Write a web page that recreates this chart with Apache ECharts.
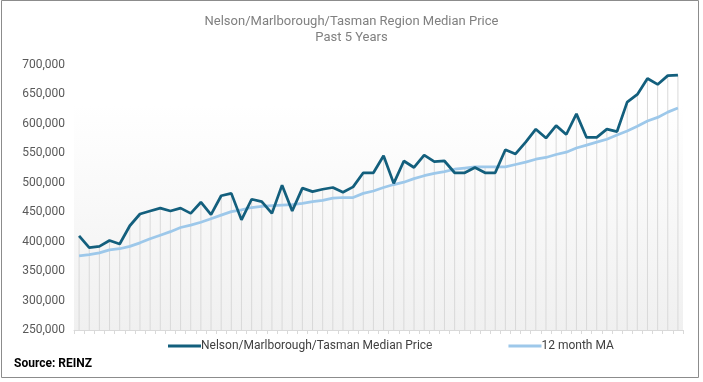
<!DOCTYPE html>
<html><head><meta charset="utf-8">
<script src="https://cdn.jsdelivr.net/npm/echarts@6/dist/echarts.min.js"></script>
<style>html,body{margin:0;padding:0;background:#fff}#c{width:703px;height:382px}</style>
</head><body><div id="c"></div>
<script>
const months = Array.from({length: 60}, (_, i) => 'M' + (i + 1));
const medianPrice = [410000,390000,392000,402000,396000,427000,447000,452000,457000,452000,
  457000,448000,467000,446000,478000,482000,437000,472000,468000,448000,
  496000,452000,491000,485000,489000,492000,484000,493000,517000,517000,
  546000,499000,537000,526000,547000,536000,537000,517000,517000,526000,
  517000,517000,556000,549000,569000,591000,576000,597000,582000,617000,
  577000,577000,591000,587000,637000,650000,677000,667000,682000,683000];
const movingAvg = [376000,378000,381000,386000,388000,392000,398000,405000,411000,417000,
  424000,428000,433000,439000,445000,451000,454000,458000,460000,461000,
  462000,463000,465000,468000,470000,474000,475000,475000,482000,486000,
  492000,497000,501000,507000,512000,516000,519000,523000,525000,527000,
  527000,527000,527000,531000,535000,540000,543000,548000,552000,559000,
  564000,569000,574000,581000,588000,596000,605000,611000,620000,627000];
const yTicks = [250000, 300000, 350000, 400000, 450000, 500000, 550000, 600000, 650000, 700000];
const titleLines = ['Nelson/Marlborough/Tasman Region Median Price', 'Past 5 Years'];
const seriesNames = ['Nelson/Marlborough/Tasman Median Price', '12 month MA'];
const sourceText = 'Source: REINZ';

const dropLines = medianPrice.map((v, i) => Math.max(v, movingAvg[i]));
const chart = echarts.init(document.getElementById('c'), null, {renderer: 'canvas'});
const font = 'Roboto, "Liberation Sans", sans-serif';
chart.setOption({
  animation: false,
  textStyle: {fontFamily: font},
  title: {
    text: titleLines.join('\n'), left: 'center', top: 9,
    textStyle: {fontSize: 13, fontWeight: 'normal', color: '#808080', lineHeight: 16, fontFamily: font}
  },
  legend: {
    bottom: 25, left: 163, itemGap: 76, itemWidth: 33, itemHeight: 3,
    icon: 'rect',
    data: seriesNames,
    textStyle: {fontSize: 12, color: '#404040', padding: [0, 0, 0, -5], fontFamily: font}
  },
  grid: {
    left: 74, right: 20, top: 65, bottom: 52, show: true, borderWidth: 0,
    backgroundColor: {type: 'linear', x: 0, y: 0, x2: 0, y2: 1, colorStops: [
      {offset: 0, color: '#ffffff'}, {offset: 0.15, color: '#ffffff'}, {offset: 1, color: '#f0f0f0'}]}
  },
  xAxis: {
    type: 'category', data: months, boundaryGap: true,
    axisLine: {lineStyle: {color: '#d9d9d9', width: 1}},
    axisTick: {show: true, interval: 0, length: 4, lineStyle: {color: '#d9d9d9'}},
    axisLabel: {show: false}, splitLine: {show: false}
  },
  yAxis: {
    type: 'value', min: yTicks[0], max: yTicks[yTicks.length - 1], interval: 50000,
    axisLine: {show: false}, axisTick: {show: false}, splitLine: {show: false},
    axisLabel: {fontSize: 12, color: '#595959', margin: 9, fontFamily: font,
      formatter: v => v.toLocaleString('en-US')}
  },
  graphic: [
    {type: 'rect', shape: {x: 1.5, y: 0.5, width: 697, height: 377}, style: {fill: 'none', stroke: '#8c8c8c', lineWidth: 1}, z: 100},
    {type: 'text', left: 14, top: 358, style: {text: sourceText, font: 'bold 12px ' + font, fill: '#000'}}
  ],
  series: [
    {type: 'bar', data: dropLines, barWidth: 1, itemStyle: {color: '#d9d9d9'}, silent: true, z: 1, legendHoverLink: false},
    {name: seriesNames[0], type: 'line', data: medianPrice, symbol: 'none', z: 3,
      lineStyle: {color: '#135f7d', width: 2.75}, itemStyle: {color: '#135f7d'}},
    {name: seriesNames[1], type: 'line', data: movingAvg, symbol: 'none', z: 2,
      lineStyle: {color: '#9dc8ea', width: 2.75}, itemStyle: {color: '#9dc8ea'}}
  ]
});
</script></body></html>
